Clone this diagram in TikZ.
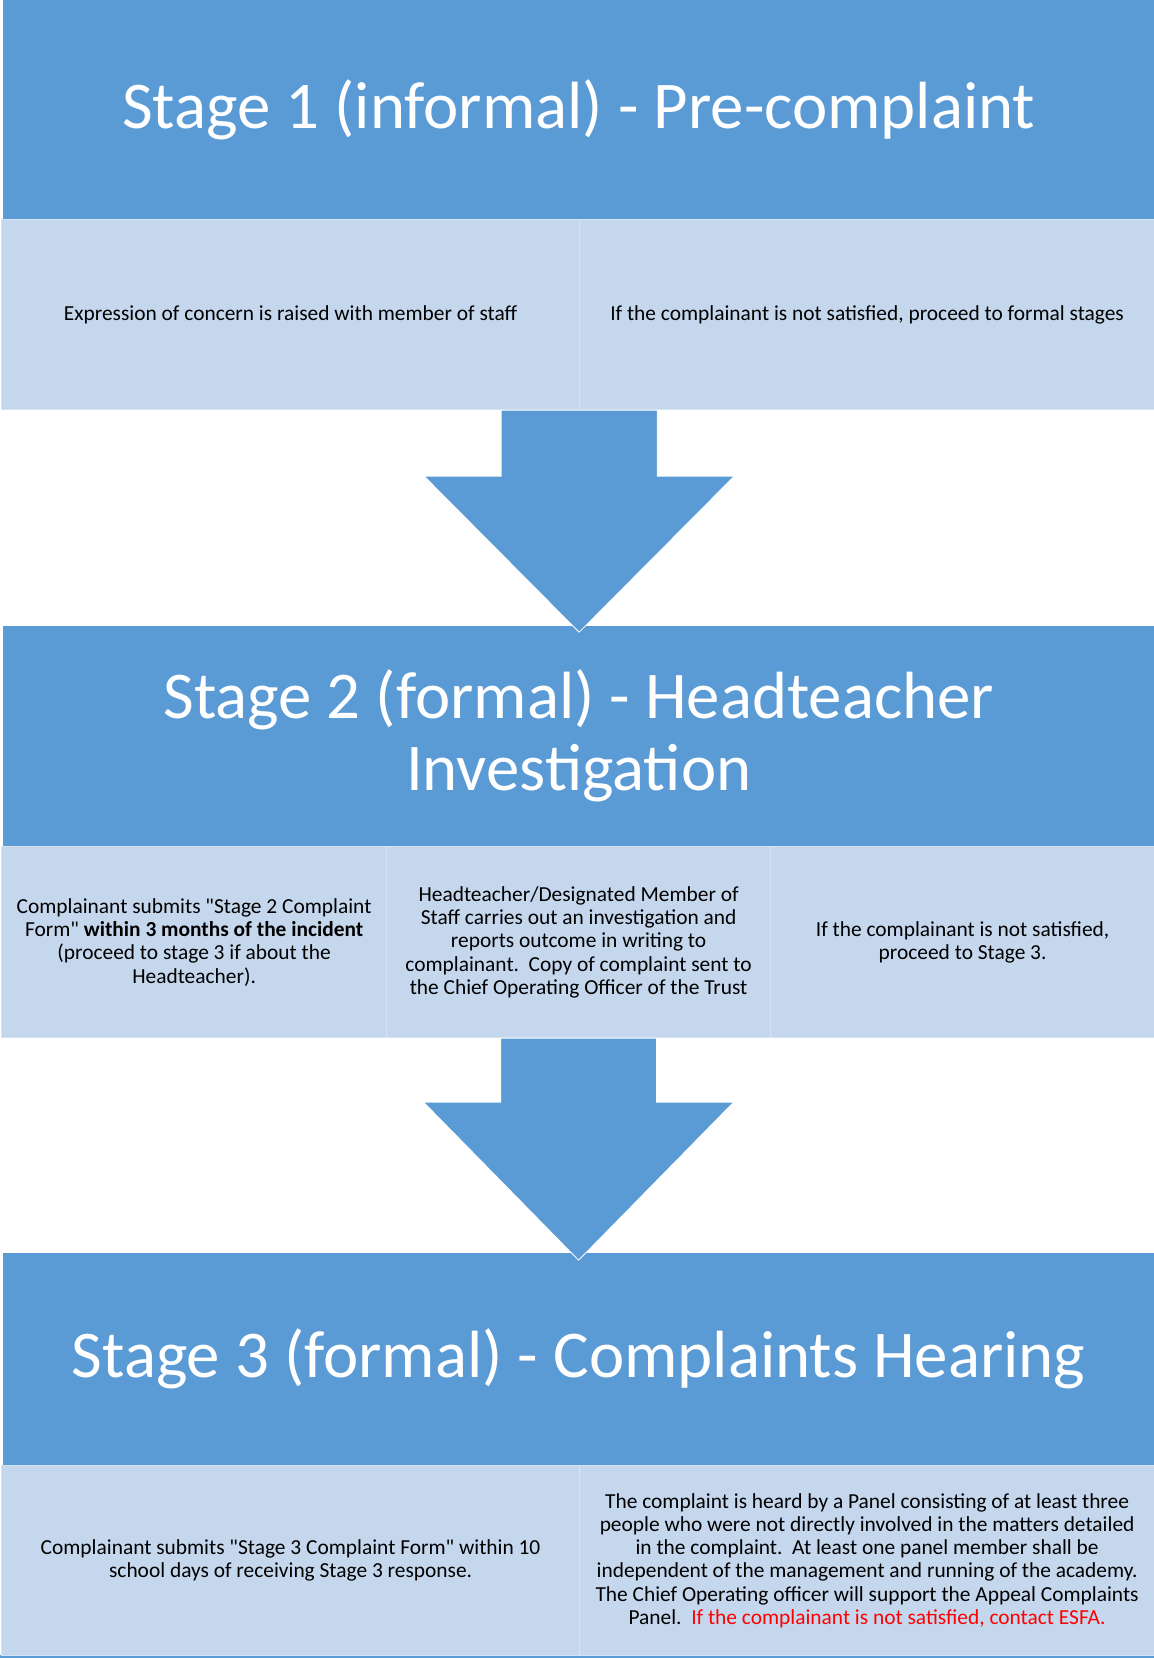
\documentclass[tikz,border=0pt]{standalone}
\usepackage{fontspec}
\setmainfont{Carlito}[Ligatures=TeXOff]
\usetikzlibrary{positioning,calc}
\definecolor{bannerblue}{HTML}{5B9BD5}
\definecolor{cellblue}{HTML}{C5D7ED}
\definecolor{cellline}{HTML}{D6E3F3}
\definecolor{esfared}{HTML}{FF0000}
\begin{document}
\begin{tikzpicture}[x=1pt,y=-1pt,
    banner/.style={fill=bannerblue, text=white, anchor=north west, inner sep=0pt,
        minimum width=1151pt, align=center, font=\fontsize{66.8}{72}\selectfont},
    cell/.style={fill=cellblue, draw=cellline, line width=1.2pt, anchor=north west,
        inner sep=0pt, align=center, font=\fontsize{21.4}{23.3}\selectfont},
    downarrow/.style={fill=bannerblue, draw=white, line width=0.8pt}]
\useasboundingbox (0,0) rectangle (1154,1658);

% stage 1
\node[banner, minimum height=219pt] (stone) at (3,0) {Stage 1 (informal) - Pre-complaint};
\node[cell, minimum width=578pt, minimum height=190pt] (stonea) at (1,219) {Expression of concern is raised with member of staff};
\node[cell, minimum width=575pt, minimum height=190pt] (stoneb) at (579,219) {If the complainant is not satisfied, proceed to formal stages};

% stage 2
\node[banner, minimum height=220pt] (sttwo) at (3,626) {Stage 2 (formal) - Headteacher\\Investigation};
\node[cell, minimum width=385pt, minimum height=191pt] (sttwoa) at (1,846) {Complainant submits "Stage 2 Complaint\\Form" \textbf{within 3 months of the incident}\\(proceed to stage 3 if about the\\Headteacher).};
\node[cell, minimum width=384pt, minimum height=191pt] (sttwob) at (386,846) {Headteacher/Designated Member of\\Staff carries out an investigation and\\reports outcome in writing to\\complainant.\ \ Copy of complaint sent to\\the Chief Operating Officer of the Trust};
\node[cell, minimum width=384pt, minimum height=191pt] (sttwoc) at (770,846) {If the complainant is not satisfied,\\proceed to Stage 3.};

% stage 3
\node[banner, minimum height=212pt] (stthree) at (3,1253) {Stage 3 (formal) - Complaints Hearing};
\fill[bannerblue] (0,1655) rectangle (1154,1658);
\node[cell, minimum width=578pt, minimum height=190pt] (stthreea) at (1,1465) {Complainant submits "Stage 3 Complaint Form" within 10\\school days of receiving Stage 3 response.};
\node[cell, minimum width=575pt, minimum height=190pt] (stthreeb) at (579,1465) {The complaint is heard by a Panel consisting of at least three\\people who were not directly involved in the matters detailed\\in the complaint.\ \ At least one panel member shall be\\independent of the management and running of the academy.\\The Chief Operating officer will support the Appeal Complaints\\Panel.\ \ \textcolor{esfared}{If the complainant is not satisfied, contact ESFA.}};

% block arrows between the stages
\draw[downarrow] ($(stonea.south east)+(-79,0)$) -- ++(0,66) -- ++(-77,0) -- ($(stonea.south east)+(-1,222)$) coordinate (tipone)
    -- ++(155,-156) -- ++(-77,0) -- ($(stonea.south east)+(77,0)$) -- cycle;
\draw[downarrow] ($(sttwob.south)+(-78,0)$) -- ++(0,64) -- ++(-77,0) -- ($(sttwob.south)+(0,222)$) coordinate (tiptwo)
    -- ++(155,-158) -- ++(-77,0) -- ($(sttwob.south)+(78,0)$) -- cycle;
\end{tikzpicture}
\end{document}
